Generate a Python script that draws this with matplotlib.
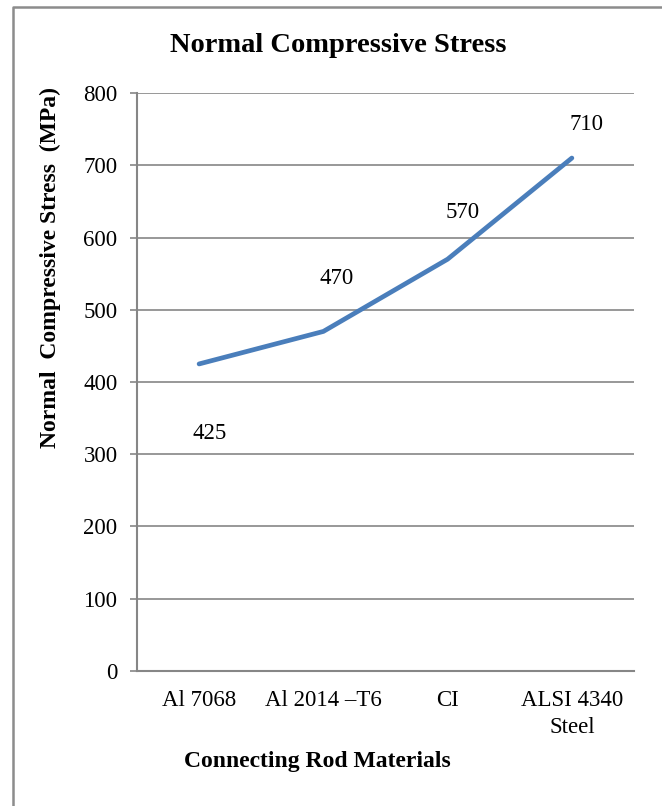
import matplotlib.pyplot as plt
from matplotlib.lines import Line2D

# stress per connecting rod material
materials = ['Al 7068', 'Al 2014 \u2013T6', 'CI', 'ALSI 4340\nSteel']
stress = [425, 470, 570, 710]
y_ticks = [0, 100, 200, 300, 400, 500, 600, 700, 800]

plt.rcParams['font.family'] = ['Liberation Serif', 'DejaVu Serif']

fig = plt.figure(figsize=(6.62, 8.06), dpi=100)
ax = fig.add_axes([0.2069, 0.1675, 0.7508, 0.7171])

x = list(range(len(materials)))
ax.plot(x, stress, color='#4A7EBB', linewidth=3.4, solid_capstyle='round', zorder=3)

# value labels (Excel-style placement)
offsets = [(11, -70), (13, 53), (15, 47), (15, 34)]
for xi, v, off in zip(x, stress, offsets):
    ax.annotate(str(v), (xi, v), xytext=off, textcoords='offset pixels',
                ha='center', va='center', fontsize=16.5, color='black')

ax.set_xlim(-0.5, len(materials) - 0.5)
ax.set_ylim(0, 800)
ax.set_yticks(y_ticks)
ax.set_xticks(x)
ax.set_xticklabels(materials, fontsize=16.5, linespacing=1.35)
ax.tick_params(axis='x', length=0, pad=14)
ax.tick_params(axis='y', length=5, width=1.2, color='#868686', pad=9, labelsize=16.5)

ax.grid(axis='y', color='#868686', linewidth=1.2)
ax.set_axisbelow(True)
for side in ['top', 'right']:
    ax.spines[side].set_visible(False)
for side in ['left', 'bottom']:
    ax.spines[side].set_color('#868686')
    ax.spines[side].set_linewidth(1.5)

fig.text(338 / 662, 1 - 45 / 806, 'Normal Compressive Stress', ha='center', va='center',
         fontsize=20.5, fontweight='bold')
fig.text(317 / 662, 1 - 762 / 806, 'Connecting Rod Materials', ha='center', va='center',
         fontsize=17, fontweight='bold')
fig.text(50 / 662, 1 - 268 / 806, 'Normal  Compressive Stress  (MPa)', ha='center', va='center',
         rotation=90, fontsize=17, fontweight='bold')

# chart frame (left and top edges)
fig.add_artist(Line2D([13 / 662, 13 / 662, 1.0], [0.0, 1 - 7 / 806, 1 - 7 / 806],
                      transform=fig.transFigure, color='#8c8c8c', linewidth=1.8))

fig.savefig('out.png', dpi=100)
